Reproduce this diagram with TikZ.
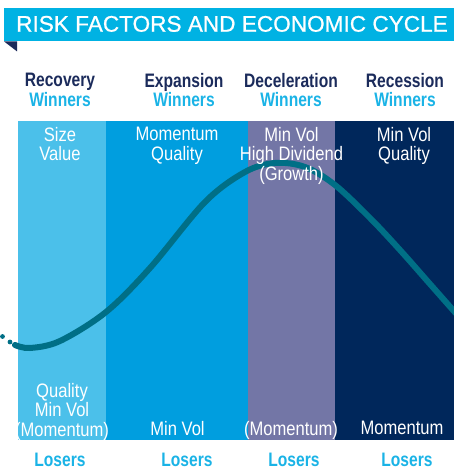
\documentclass[tikz,border=0pt]{standalone}
\usepackage{fontspec}
\setmainfont{Liberation Sans}
\newfontfamily\narrowfont[FakeStretch=0.85]{Liberation Sans}
\newfontfamily\headfont[FakeStretch=0.8]{Liberation Sans}
\newfontfamily\bannerfont[FakeBold=0.8]{Liberation Sans}
\definecolor{bannerblue}{HTML}{00B2E3}
\definecolor{foldnavy}{HTML}{1B2A5A}
\definecolor{headnavy}{HTML}{1B2B5B}
\definecolor{winblue}{HTML}{1AB3E6}
\definecolor{recfill}{HTML}{4BC0EA}
\definecolor{expfill}{HTML}{009EDF}
\definecolor{decfill}{HTML}{7376A6}
\definecolor{resfill}{HTML}{00275B}
\definecolor{cyclecolor}{HTML}{006F86}

\begin{document}
\begin{tikzpicture}[x=1pt, y=-1pt,
             every node/.style = {inner sep=0pt, align=center},
             band/.style = {draw=none, anchor=north west, minimum height=319pt},
             phase/.style = {anchor=north, text=headnavy,
                             font=\headfont\bfseries\fontsize{19.5}{19.5}\selectfont},
             factor/.style = {anchor=north, text=white,
                              font=\narrowfont\fontsize{19.5}{19.6}\selectfont},
             loser/.style = {anchor=base, text=winblue,
                             font=\headfont\bfseries\fontsize{19.5}{19.5}\selectfont}]
\useasboundingbox (0,0) rectangle (454,474);

\node (banner) at (4,8) [anchor=north west, fill=bannerblue, minimum width=450pt, minimum height=33pt] {};
\fill [foldnavy] (banner.south west) -- ++(13,0) -- ++(0,10) -- cycle;
\node (title) at (16,31.7) [anchor=base west, text=white, font=\bannerfont\fontsize{22.6}{26}\selectfont] {RISK FACTORS AND ECONOMIC CYCLE};

\node (rechead) at (60,73) [phase] {Recovery\\{\color{winblue}Winners}};
\node (exphead) at (184,73) [phase] {Expansion\\{\color{winblue}Winners}};
\node (dechead) at (291,73) [phase] {Deceleration\\{\color{winblue}Winners}};
\node (reshead) at (405,73) [phase] {Recession\\{\color{winblue}Winners}};

\node (recband) at (18,121) [band, fill=recfill, minimum width=88pt] {};
\node (expband) at (106,121) [band, fill=expfill, minimum width=142pt] {};
\node (decband) at (248,121) [band, fill=decfill, minimum width=87pt] {};
\node (resband) at (335,121) [band, fill=resfill, minimum width=119pt] {};

\fill [cyclecolor] (2.5,336.5) circle (2.4pt) (10,342) circle (2.4pt);
\draw [cyclecolor, line width=6pt, line cap=round] plot [smooth, tension=0.55] coordinates
  {(15,345) (30,348) (60,341) (106,312) (150,268) (205,202) (245,172) (275,163)
   (305,167) (335,185) (370,218) (400,250) (430,284) (460,318)};

\node (recwin) at (60,127) [factor] {Size\\Value};
\node (expwin) at (177,127) [factor] {Momentum\\Quality};
\node (decwin) at (291.5,127) [factor] {Min Vol\\High Dividend\\(Growth)};
\node (reswin) at (404,127) [factor] {Min Vol\\Quality};

\node (reclose) at (62,383) [factor] {Quality\\Min Vol\\(Momentum)};
\node (explose) at (177.5,421) [factor] {Min Vol};
\node (declose) at (291,421) [factor] {(Momentum)};
\node (reslose) at (402,421) [factor] {Momentum};

\node (recloser) at (60,466.7) [loser] {Losers};
\node (exploser) at (187,466.7) [loser] {Losers};
\node (decloser) at (294,466.7) [loser] {Losers};
\node (resloser) at (407,466.7) [loser] {Losers};

\end{tikzpicture}
\end{document}
